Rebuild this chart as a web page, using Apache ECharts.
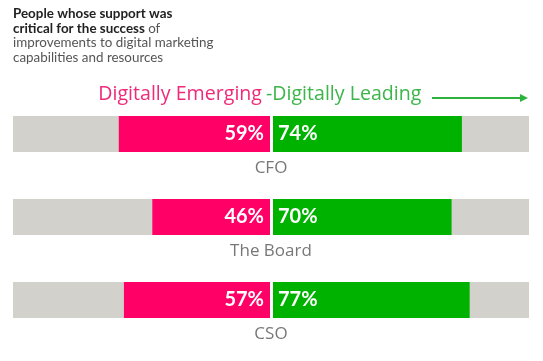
<!DOCTYPE html>
<html>
<head>
<meta charset="utf-8">
<script src="https://cdn.jsdelivr.net/npm/echarts@6/dist/echarts.min.js"></script>
<style>html,body{margin:0;padding:0;background:#fff;}#c{width:543px;height:361px;}</style>
</head>
<body>
<div id="c"></div>
<script>
var categories = ['CFO', 'The Board', 'CSO'];
var emerging = [59, 46, 57];
var leading = [74, 70, 77];
var fullScale = [100, 100, 100];

var PINK = '#FF0066', GREEN = '#00B200', GRAY = '#D2D1CC';
var FONT = 'Lato';
var LFONT = 'Open Sans';

var chart = echarts.init(document.getElementById('c'));
chart.setOption({
  backgroundColor: '#fff',
  animation: false,
  grid: { left: 13, right: 14, top: 92.5, bottom: 19.5 },
  xAxis: { type: 'value', min: -100, max: 100, show: false },
  yAxis: { type: 'category', data: categories, inverse: true, show: false },
  graphic: [
    {
      type: 'text', left: 13, top: 7, z: 100,
      style: {
        text: '{b|People whose support was}\n{b|critical for the success} {r|of}\n{r|improvements to digital marketing}\n{r|capabilities and resources}',
        rich: {
          b: { fontFamily: FONT, fontWeight: 'bold', fontSize: 13.4, lineHeight: 14.7, fill: '#222' },
          r: { fontFamily: FONT, fontSize: 13.4, lineHeight: 14.7, fill: '#555' }
        }
      }
    },
    {
      type: 'text', right: 281, top: 84, z: 100,
      style: { text: 'Digitally Emerging', fontFamily: LFONT, fontSize: 19.6, fill: '#EE2A7B' }
    },
    {
      type: 'text', left: 266, top: 84, z: 100,
      style: { text: '-Digitally Leading', fontFamily: LFONT, fontSize: 19.6, fill: '#3CB54A' }
    },
    {
      type: 'line', z: 100,
      shape: { x1: 432, y1: 98, x2: 522, y2: 98 },
      style: { stroke: '#2DB33C', lineWidth: 2 }
    },
    {
      type: 'polygon', z: 100,
      shape: { points: [[520, 94], [528, 98], [520, 102]] },
      style: { fill: '#2DB33C' }
    }
  ],
  series: [
    {
      type: 'bar', stack: 'bg', barWidth: 36, barGap: '-100%', silent: true,
      itemStyle: { color: GRAY },
      data: fullScale.map(function (v) { return -v; })
    },
    {
      type: 'bar', stack: 'bg', barWidth: 36, barGap: '-100%', silent: true,
      itemStyle: { color: GRAY },
      data: fullScale
    },
    {
      type: 'bar', stack: 'fg', barWidth: 36, barGap: '-100%', z: 3,
      itemStyle: { color: PINK },
      label: {
        show: true, position: 'insideRight', distance: 7,
        fontFamily: FONT, fontWeight: 'bold', fontSize: 20, color: '#fff',
        formatter: function (p) { return Math.abs(p.value) + '%'; }
      },
      data: emerging.map(function (v) { return -v; })
    },
    {
      type: 'bar', stack: 'fg', barWidth: 36, barGap: '-100%', z: 3,
      itemStyle: { color: GREEN },
      label: {
        show: true, position: 'insideLeft', distance: 7,
        fontFamily: FONT, fontWeight: 'bold', fontSize: 20, color: '#fff',
        formatter: function (p) { return p.value + '%'; }
      },
      markLine: {
        silent: true, symbol: 'none', label: { show: false }, z: 4,
        lineStyle: { color: '#fff', width: 3, type: 'solid' },
        data: [{ xAxis: 0 }]
      },
      data: leading
    },
    {
      type: 'scatter', symbolSize: 0, silent: true, z: 20,
      label: {
        show: true, position: 'inside', offset: [0, 34],
        fontFamily: LFONT, fontSize: 17, color: '#555',
        formatter: function (p) { return categories[p.dataIndex]; }
      },
      data: categories.map(function (c) { return [0, c]; })
    }
  ]
});
</script>
</body>
</html>
